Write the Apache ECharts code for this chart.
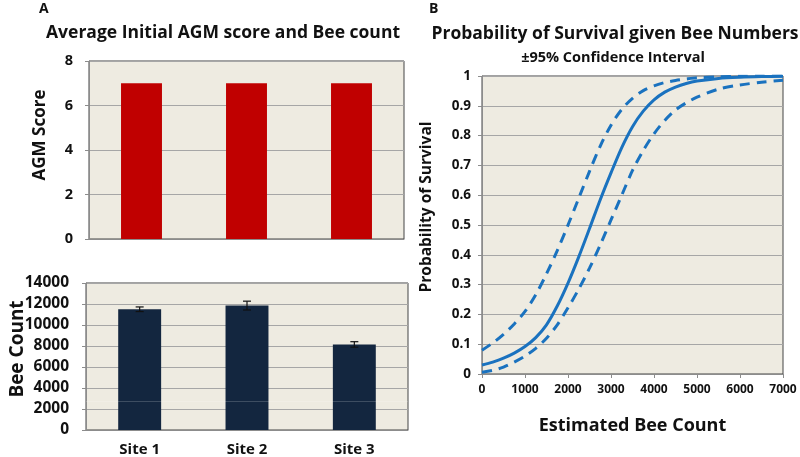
<!DOCTYPE html>
<html><head><meta charset="utf-8">
<script src="https://cdn.jsdelivr.net/npm/echarts@6/dist/echarts.min.js"></script>
<style>html,body{margin:0;padding:0;background:#fff}#c{width:800px;height:457px}</style>
</head><body><div id="c"></div>
<script>
// ---- data ----
const sites = ['Site 1', 'Site 2', 'Site 3'];
const agmScore = [7, 7, 7];
const beeCount = [11500, 11850, 8150];
const beeErr = [220, 420, 260];
const beeX = [0,250,500,750,1000,1250,1500,1750,2000,2250,2500,2750,3000,3250,3500,3750,4000,4250,4500,4750,5000,5500,6000,6500,7000];
const probMid = [0.03,0.04,0.053,0.07,0.092,0.122,0.165,0.228,0.305,0.393,0.488,0.585,0.675,0.76,0.83,0.882,0.92,0.946,0.963,0.975,0.983,0.992,0.996,0.998,0.999];
const probUpper = [0.08,0.104,0.133,0.168,0.21,0.266,0.336,0.414,0.5,0.59,0.68,0.765,0.835,0.888,0.925,0.951,0.967,0.978,0.985,0.99,0.994,0.997,0.999,1.0,1.0];
const probLower = [0.006,0.012,0.023,0.04,0.06,0.086,0.12,0.165,0.222,0.285,0.355,0.433,0.517,0.6,0.683,0.75,0.806,0.851,0.886,0.91,0.929,0.956,0.97,0.979,0.986];

const F = '"Open Sans", "Noto Sans", sans-serif';
const bg = '#eeebe1';
const gridLine = {show: true, lineStyle: {color: '#a6a6a6', width: 1}};
const axLine = {show: true, lineStyle: {color: '#8c8c8c', width: 1}};
const tick = {show: true, inside: false, length: 4, lineStyle: {color: '#8c8c8c'}};
const lab = (s) => ({color: '#111', fontFamily: F, fontWeight: 'bold', fontSize: s});
const blue = '#1a72bf';
const plain = v => String(+v.toFixed(1));
const txt = (t, x, y, size, align, rot) => ({type: 'text', x: x, y: y, rotation: rot || 0, silent: true,
  style: {text: t, fill: '#111', font: 'bold ' + size + 'px ' + F, textAlign: align || 'center', textVerticalAlign: 'middle'}});

const pairs = (ys) => beeX.map((x, i) => [x, ys[i]]);

const chart = echarts.init(document.getElementById('c'), null, {renderer: 'canvas'});
chart.setOption({
  animation: false,
  backgroundColor: '#fff',
  graphic: [
    txt('A', 39, 9, 14, 'left'),
    txt('Average Initial AGM score and Bee count', 223, 33, 17.5),
    txt('B', 429, 9, 14, 'left'),
    txt('Probability of Survival given Bee Numbers', 615, 34, 17.5),
    txt('±95% Confidence Interval', 613, 58, 14.5),
    txt('AGM Score', 40, 135, 17, 'center', Math.PI / 2),
    txt('Bee Count', 18, 349, 19, 'center', Math.PI / 2),
    txt('Probability of Survival', 427, 207, 15.5, 'center', Math.PI / 2)
  ],
  grid: [
    {left: 89, top: 61, width: 315, height: 178, show: true, backgroundColor: bg, borderColor: '#444', borderWidth: 1},
    {left: 86, top: 283, width: 322, height: 147, show: true, backgroundColor: bg, borderColor: '#444', borderWidth: 1},
    {left: 482, top: 76, width: 301, height: 298, show: true, backgroundColor: bg, borderColor: '#444', borderWidth: 1}
  ],
  xAxis: [
    {gridIndex: 0, type: 'category', data: sites, axisLabel: {show: false}, axisTick: {show: false}, axisLine: axLine},
    {gridIndex: 1, type: 'category', data: sites, axisLabel: {...lab(15), margin: 12}, axisTick: {show: false}, axisLine: axLine},
    {gridIndex: 2, type: 'value', min: 0, max: 7000, interval: 1000, axisLabel: {...lab(12), margin: 10, formatter: plain}, axisTick: {...tick}, axisLine: axLine, splitLine: {show: false},
     name: 'Estimated Bee Count', nameLocation: 'middle', nameGap: 43, nameTextStyle: {...lab(18)}}
  ],
  yAxis: [
    {gridIndex: 0, type: 'value', min: 0, max: 8, interval: 2, axisLabel: {...lab(14.5), margin: 16, formatter: plain}, axisTick: {...tick}, axisLine: axLine, splitLine: gridLine},
    {gridIndex: 1, type: 'value', min: 0, max: 14000, interval: 2000, axisLabel: {...lab(15.5), margin: 17, formatter: plain}, axisTick: {...tick}, axisLine: axLine, splitLine: gridLine},
    {gridIndex: 2, type: 'value', min: 0, max: 1, interval: 0.1, axisLabel: {...lab(13.5), margin: 11, formatter: plain}, axisTick: {...tick}, axisLine: axLine, splitLine: gridLine}
  ],
  series: [
    {type: 'bar', xAxisIndex: 0, yAxisIndex: 0, data: agmScore, barWidth: '39%', itemStyle: {color: '#c00000'}},
    {type: 'bar', xAxisIndex: 1, yAxisIndex: 1, data: beeCount, barWidth: '40%', itemStyle: {color: '#13263f'},
     markLine: {silent: true, symbol: 'none', label: {show: false}, lineStyle: {color: 'rgba(255,255,255,0.18)', type: 'solid', width: 1}, data: [{yAxis: 2750}]}},
    {type: 'custom', xAxisIndex: 1, yAxisIndex: 1, z: 5,
     data: beeCount.map((v, i) => [i, v - beeErr[i], v + beeErr[i]]),
     renderItem: (params, api) => {
       const lo = api.coord([api.value(0), api.value(1)]);
       const hi = api.coord([api.value(0), api.value(2)]);
       const w = 4;
       const st = {stroke: '#111', lineWidth: 1.2};
       return {type: 'group', children: [
         {type: 'line', shape: {x1: lo[0], y1: lo[1], x2: hi[0], y2: hi[1]}, style: st},
         {type: 'line', shape: {x1: lo[0] - w, y1: lo[1], x2: lo[0] + w, y2: lo[1]}, style: st},
         {type: 'line', shape: {x1: hi[0] - w, y1: hi[1], x2: hi[0] + w, y2: hi[1]}, style: st}
       ]};
     }},
    {type: 'line', xAxisIndex: 2, yAxisIndex: 2, data: pairs(probMid), smooth: 0.3, symbol: 'none', lineStyle: {color: blue, width: 3}},
    {type: 'line', xAxisIndex: 2, yAxisIndex: 2, data: pairs(probUpper), smooth: 0.3, symbol: 'none', lineStyle: {color: blue, width: 3, type: [10, 7]}},
    {type: 'line', xAxisIndex: 2, yAxisIndex: 2, data: pairs(probLower), smooth: 0.3, symbol: 'none', lineStyle: {color: blue, width: 3, type: [10, 7]}}
  ]
});
</script></body></html>
